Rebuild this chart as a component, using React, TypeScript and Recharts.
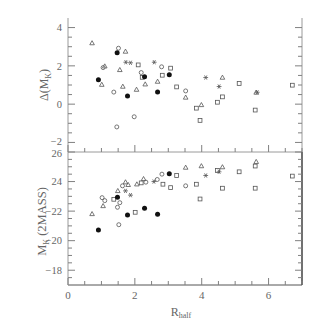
import React from 'react'
import { ScatterChart, Scatter, XAxis, YAxis } from 'recharts'

type Pt = { r: number; v: number }

// upper panel: Δ(M_K) against R_half
const dFilled: Pt[] = [
  { r: 1.47, v: 2.68 }, { r: 2.29, v: 1.43 }, { r: 3.03, v: 1.53 },
  { r: 0.91, v: 1.27 }, { r: 1.78, v: 0.42 }, { r: 2.68, v: 0.63 },
]
const dCircle: Pt[] = [
  { r: 1.51, v: 2.92 }, { r: 2.8, v: 1.95 }, { r: 1.05, v: 1.91 }, { r: 2.19, v: 1.65 },
  { r: 1.37, v: 0.63 }, { r: 3.52, v: 0.69 }, { r: 1.98, v: -0.66 }, { r: 1.46, v: -1.19 },
]
const dTriangle: Pt[] = [
  { r: 0.72, v: 3.19 }, { r: 1.72, v: 2.75 }, { r: 1.55, v: 1.79 }, { r: 1.1, v: 1.98 },
  { r: 1.01, v: 1.02 }, { r: 2.68, v: 1.18 }, { r: 1.64, v: 0.92 }, { r: 2.05, v: 0.76 },
  { r: 3.52, v: 0.35 }, { r: 3.99, v: -0.04 }, { r: 4.62, v: 1.39 }, { r: 2.31, v: 1.04 },
  { r: 5.63, v: 0.61 },
]
const dSquare: Pt[] = [
  { r: 2.1, v: 2.05 }, { r: 3.07, v: 1.88 }, { r: 2.82, v: 1.51 }, { r: 3.25, v: 0.9 },
  { r: 3.84, v: -0.21 }, { r: 3.95, v: -0.85 }, { r: 4.62, v: 0.38 }, { r: 4.47, v: 0.1 },
  { r: 5.12, v: 1.08 }, { r: 5.6, v: -0.31 }, { r: 6.71, v: 0.99 }, { r: 2.22, v: 1.4 },
]
const dStar: Pt[] = [
  { r: 1.73, v: 2.19 }, { r: 1.87, v: 2.16 }, { r: 2.58, v: 2.19 },
  { r: 4.12, v: 1.39 }, { r: 4.52, v: 0.92 }, { r: 5.66, v: 0.62 },
]

// lower panel: M_K (2MASS) against R_half
const mFilled: Pt[] = [
  { r: 0.91, v: -20.72 }, { r: 1.48, v: -22.94 }, { r: 1.78, v: -21.74 },
  { r: 2.29, v: -22.19 }, { r: 2.68, v: -21.78 }, { r: 3.03, v: -24.52 },
]
const mCircle: Pt[] = [
  { r: 1.02, v: -22.91 }, { r: 1.1, v: -22.71 }, { r: 1.48, v: -22.26 }, { r: 1.55, v: -22.57 },
  { r: 1.63, v: -23.71 }, { r: 1.52, v: -21.08 }, { r: 2.33, v: -23.96 }, { r: 2.67, v: -24.14 },
  { r: 2.81, v: -24.5 }, { r: 3.52, v: -23.71 },
]
const mTriangle: Pt[] = [
  { r: 0.72, v: -21.81 }, { r: 1.05, v: -22.35 }, { r: 1.49, v: -23.37 }, { r: 1.72, v: -23.96 },
  { r: 1.8, v: -23.78 }, { r: 2.26, v: -24.18 }, { r: 3.52, v: -24.95 }, { r: 3.99, v: -25.05 },
  { r: 4.62, v: -24.98 }, { r: 5.63, v: -25.34 }, { r: 2.06, v: -23.82 },
]
const mSquare: Pt[] = [
  { r: 1.37, v: -22.8 }, { r: 2.01, v: -21.92 }, { r: 2.19, v: -23.91 }, { r: 3.25, v: -24.41 },
  { r: 2.84, v: -23.82 }, { r: 3.07, v: -23.59 }, { r: 3.84, v: -23.82 }, { r: 3.95, v: -22.82 },
  { r: 4.47, v: -24.75 }, { r: 4.62, v: -23.55 }, { r: 5.12, v: -24.66 }, { r: 5.6, v: -25.05 },
  { r: 5.6, v: -23.55 }, { r: 6.71, v: -24.37 },
]
const mStar: Pt[] = [
  { r: 1.72, v: -23.37 }, { r: 1.87, v: -23.08 }, { r: 2.57, v: -24.0 },
  { r: 4.12, v: -24.41 }, { r: 4.52, v: -24.66 },
]

const xTicks = [0, 0.5, 1, 1.5, 2, 2.5, 3, 3.5, 4, 4.5, 5, 5.5, 6, 6.5, 7]
const xMajor = [0, 2, 4, 6]
const dTicks = [-2, -1.5, -1, -0.5, 0, 0.5, 1, 1.5, 2, 2.5, 3, 3.5, 4]
const dMajor = [-2, 0, 2, 4]
const mTicks = [-26, -25.5, -25, -24.5, -24, -23.5, -23, -22.5, -22, -21.5, -21, -20.5, -20, -19.5, -19, -18.5, -18, -17.5]
const mMajor = [-26, -24, -22, -20, -18]
const mLabels: Record<string, string> = { '-26': '26', '-24': '24', '-22': '\u221222', '-20': '\u221220', '-18': '\u221218' }

const FONT = '"Liberation Serif", "DejaVu Serif", serif'
const TICK = '#808080'
const TEXT = '#666'
const INK = '#555'

function fmt(v: number) {
  return v < 0 ? '\u2212' + String(-v) : String(v)
}

// ticks point into the plot, like the original; nudge shifts a label (the -2 / 26 pair at the seam)
function makeTick(side: 'left' | 'right' | 'top' | 'bottom', majors: number[], label?: (v: number) => string, nudge?: Record<string, number>) {
  return (p: any) => {
    const v = p.payload.value as number
    const major = majors.includes(v)
    const len = major ? 7 : 4
    const x = p.x as number
    const y = p.y as number
    let line
    if (side === 'left') line = <line x1={x} y1={y} x2={x + len} y2={y} stroke={TICK} strokeWidth={1} />
    else if (side === 'right') line = <line x1={x} y1={y} x2={x - len} y2={y} stroke={TICK} strokeWidth={1} />
    else if (side === 'top') line = <line x1={x} y1={y} x2={x} y2={y + len} stroke={TICK} strokeWidth={1} />
    else line = <line x1={x} y1={y} x2={x} y2={y - len} stroke={TICK} strokeWidth={1} />
    let text = null
    if (label && major) {
      const dy = (nudge && nudge[String(v)]) || 0
      if (side === 'left')
        text = <text x={x - 6} y={y + dy} dy="0.35em" textAnchor="end" fontSize={10.5} fontFamily={FONT} fill={TEXT}>{label(v)}</text>
      else if (side === 'bottom')
        text = <text x={x} y={y + 14} textAnchor="middle" fontSize={11} fontFamily={FONT} fill={TEXT}>{label(v)}</text>
    }
    return <g>{line}{text}</g>
  }
}

const shapes = {
  filled: (p: any) => <circle cx={p.cx} cy={p.cy} r={2.5} fill="#111" />,
  circle: (p: any) => <circle cx={p.cx} cy={p.cy} r={2} fill="none" stroke={INK} strokeWidth={0.8} />,
  square: (p: any) => <rect x={p.cx - 1.9} y={p.cy - 1.9} width={3.8} height={3.8} fill="none" stroke={INK} strokeWidth={0.8} />,
  triangle: (p: any) => (
    <polygon points={`${p.cx},${p.cy - 2.4} ${p.cx - 2.3},${p.cy + 1.7} ${p.cx + 2.3},${p.cy + 1.7}`} fill="none" stroke={INK} strokeWidth={0.8} />
  ),
  star: (p: any) => (
    <g stroke={INK} strokeWidth={0.8}>
      <line x1={p.cx - 2.4} y1={p.cy} x2={p.cx + 2.4} y2={p.cy} />
      <line x1={p.cx - 1.2} y1={p.cy - 2.1} x2={p.cx + 1.2} y2={p.cy + 2.1} />
      <line x1={p.cx - 1.2} y1={p.cy + 2.1} x2={p.cx + 1.2} y2={p.cy - 2.1} />
    </g>
  ),
}

function DeltaLabel(p: any) {
  const vb = p.viewBox
  const cy = vb.y + vb.height / 2
  return (
    <text transform={`translate(48, ${cy}) rotate(-90)`} textAnchor="middle" fontSize={12} fontFamily={FONT} fill={TEXT}>
      {'\u0394(M'}<tspan fontSize={8} dy={3}>K</tspan><tspan dy={-3}>)</tspan>
    </text>
  )
}

function MagLabel(p: any) {
  const vb = p.viewBox
  const cy = vb.y + vb.height / 2 + 3
  return (
    <text transform={`translate(46, ${cy}) rotate(-90)`} textAnchor="middle" fontSize={12.5} fontFamily={FONT} fill={TEXT}>
      M<tspan fontSize={8} dy={3}>K</tspan><tspan dy={-3}>{' (2MASS)'}</tspan>
    </text>
  )
}

function RLabel(p: any) {
  const vb = p.viewBox
  return (
    <text x={vb.x + vb.width / 2 - 4} y={vb.y + 31} textAnchor="middle" fontSize={12} fontFamily={FONT} fill={TEXT}>
      R<tspan fontSize={8} dy={2}>half</tspan>
    </text>
  )
}

const greyLine = { stroke: '#9a9a9a', strokeWidth: 1 }
const darkLine = { stroke: '#555', strokeWidth: 1 }

export default function App() {
  return (
    <div style={{ position: 'absolute', left: 0, top: 0, width: 320, height: 320, background: '#fff' }}>
      <div style={{ position: 'absolute', left: 0, top: 0 }}>
        <ScatterChart width={320} height={154} margin={{ top: 17, right: 17, bottom: 1, left: 0 }}>
          <XAxis xAxisId="b" type="number" dataKey="r" domain={[0, 7]} allowDataOverflow ticks={xTicks} interval={0}
            orientation="bottom" height={1} tickSize={0} tickMargin={0} axisLine={greyLine} tick={makeTick('bottom', xMajor)} />
          <XAxis xAxisId="t" type="number" domain={[0, 7]} allowDataOverflow ticks={xTicks} interval={0}
            orientation="top" height={1} tickSize={0} tickMargin={0} axisLine={false} tick={makeTick('top', xMajor)} />
          <YAxis yAxisId="l" type="number" dataKey="v" domain={[-2.5, 4.5]} allowDataOverflow ticks={dTicks} interval={0}
            width={68} tickSize={0} tickMargin={0} axisLine={greyLine} tick={makeTick('left', dMajor, fmt, { '-2': -1.5 })}
            label={<DeltaLabel />} />
          <YAxis yAxisId="r" type="number" orientation="right" domain={[-2.5, 4.5]} allowDataOverflow ticks={dTicks} interval={0}
            width={1} tickSize={0} tickMargin={0} axisLine={greyLine} tick={makeTick('right', dMajor)} />
          <Scatter xAxisId="b" yAxisId="l" data={dCircle} shape={shapes.circle} isAnimationActive={false} />
          <Scatter xAxisId="b" yAxisId="l" data={dTriangle} shape={shapes.triangle} isAnimationActive={false} />
          <Scatter xAxisId="b" yAxisId="l" data={dSquare} shape={shapes.square} isAnimationActive={false} />
          <Scatter xAxisId="b" yAxisId="l" data={dStar} shape={shapes.star} isAnimationActive={false} />
          <Scatter xAxisId="b" yAxisId="l" data={dFilled} shape={shapes.filled} isAnimationActive={false} />
        </ScatterChart>
      </div>
      <div style={{ position: 'absolute', left: 0, top: 140 }}>
        <ScatterChart width={320} height={180} margin={{ top: 11, right: 17, bottom: 0, left: 0 }}>
          <XAxis xAxisId="b" type="number" dataKey="r" domain={[0, 7]} allowDataOverflow ticks={xTicks} interval={0}
            orientation="bottom" height={35} tickSize={0} tickMargin={0} axisLine={darkLine} tick={makeTick('bottom', xMajor, fmt)}
            label={<RLabel />} />
          <XAxis xAxisId="t" type="number" domain={[0, 7]} allowDataOverflow ticks={xTicks} interval={0}
            orientation="top" height={1} tickSize={0} tickMargin={0} axisLine={false} tick={makeTick('top', xMajor)} />
          <YAxis yAxisId="l" type="number" dataKey="v" domain={[-26, -17]} reversed allowDataOverflow ticks={mTicks} interval={0}
            width={68} tickSize={0} tickMargin={0} axisLine={greyLine}
            tick={makeTick('left', mMajor, (v) => mLabels[String(v)], { '-26': 1.5 })} label={<MagLabel />} />
          <YAxis yAxisId="r" type="number" orientation="right" domain={[-26, -17]} reversed allowDataOverflow ticks={mTicks} interval={0}
            width={1} tickSize={0} tickMargin={0} axisLine={{ stroke: '#111', strokeWidth: 1.2 }} tick={makeTick('right', mMajor)} />
          <Scatter xAxisId="b" yAxisId="l" data={mCircle} shape={shapes.circle} isAnimationActive={false} />
          <Scatter xAxisId="b" yAxisId="l" data={mTriangle} shape={shapes.triangle} isAnimationActive={false} />
          <Scatter xAxisId="b" yAxisId="l" data={mSquare} shape={shapes.square} isAnimationActive={false} />
          <Scatter xAxisId="b" yAxisId="l" data={mStar} shape={shapes.star} isAnimationActive={false} />
          <Scatter xAxisId="b" yAxisId="l" data={mFilled} shape={shapes.filled} isAnimationActive={false} />
        </ScatterChart>
      </div>
    </div>
  )
}
